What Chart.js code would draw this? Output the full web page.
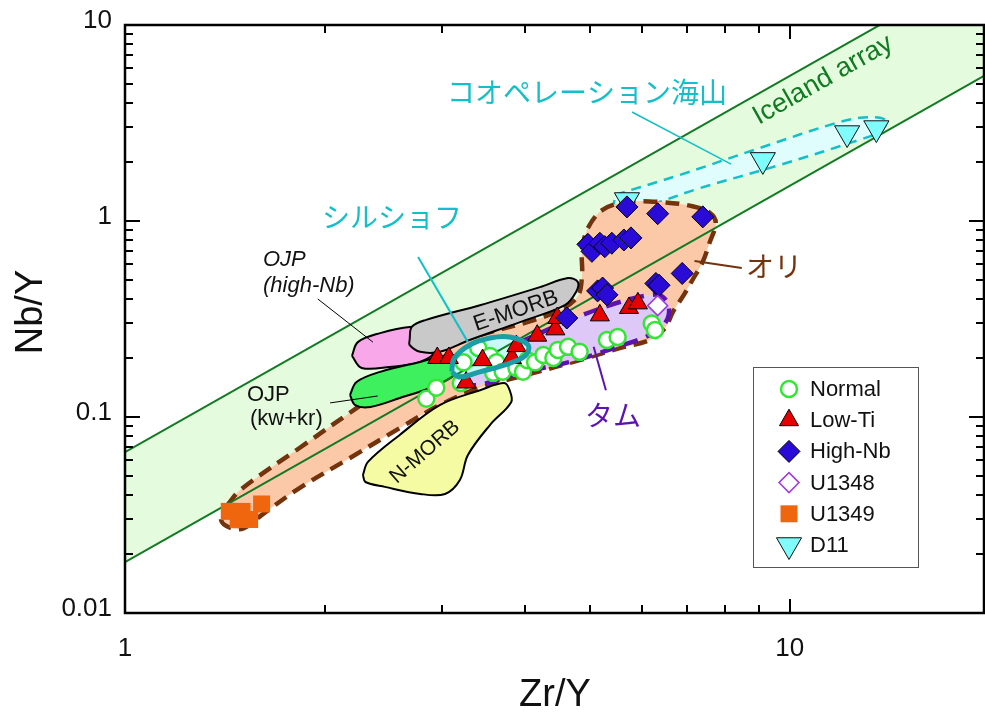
<!DOCTYPE html>
<html>
<head>
<meta charset="utf-8">
<script src="https://cdn.jsdelivr.net/npm/chart.js@4.4.0/dist/chart.umd.min.js"></script>
<style>
  html, body { margin: 0; padding: 0; background: #fff; overflow: hidden; }
</style>
</head>
<body>
<canvas id="chart" width="985" height="715"></canvas>
<script>
// ---------- DATA (Zr/Y, Nb/Y) ----------
const seriesNames = ["Normal", "Low-Ti", "High-Nb", "U1348", "U1349", "D11"];

const normal = [[2.84,0.124],[2.94,0.141],[3.20,0.149],[3.23,0.19],[3.40,0.225],[3.54,0.205],
  [3.58,0.168],[3.62,0.19],[3.70,0.17],[3.88,0.178],[3.97,0.17],[4.03,0.195],[4.14,0.19],
  [4.26,0.207],[4.41,0.20],[4.48,0.22],[4.64,0.228],[4.83,0.215],[5.31,0.247],[5.51,0.256],
  [6.20,0.30],[6.27,0.278]];
const lowTi = [[2.95,0.20],[3.07,0.20],[3.26,0.15],[3.45,0.195],[3.82,0.20],[3.88,0.23],
  [4.17,0.26],[4.44,0.28],[4.47,0.32],[5.18,0.33],[5.73,0.36],[5.91,0.38]];
const highNb = [[5.69,1.18],[6.33,1.09],[7.40,1.05],[4.97,0.76],[5.04,0.70],[5.18,0.77],
  [5.27,0.74],[5.40,0.77],[5.63,0.80],[5.77,0.82],[5.14,0.44],[5.23,0.455],[5.31,0.42],
  [4.62,0.32],[6.29,0.48],[6.36,0.47],[6.89,0.54]];
const u1348 = [[6.33,0.37]];
const u1349 = [[1.435,0.033],[1.50,0.033],[1.54,0.030],[1.605,0.036],[1.48,0.030]];
const d11 = [[5.69,1.28],[9.11,2.05],[12.2,2.81],[13.5,2.98]];

// Iceland array boundaries
const icelandUpper = [[1,0.0661],[19.6,20.0]];
const icelandLower = [[1,0.0182],[19.6,5.5]];

// field outlines
const koaZone = [[5.46,1.36],[6.84,1.72],[9.02,2.36],[11.9,3.2],[13.2,3.39],[14.0,3.24],
  [13.65,2.85],[12.7,2.59],[9.66,1.93],[7.32,1.47],[6.16,1.21],[5.46,1.11],[5.46,1.36]];
const oriZone = [[1.425,0.0355],[1.49,0.0424],[1.83,0.0695],[2.23,0.111],[2.59,0.158],
  [2.88,0.2146],[3.42,0.262],[4.03,0.305],[4.51,0.351],[4.80,0.414],[4.87,0.53],[4.87,0.711],
  [4.97,0.92],[5.23,1.14],[5.69,1.25],[6.38,1.25],[7.14,1.19],[7.58,1.10],[7.74,0.977],
  [7.58,0.78],[7.40,0.62],[7.14,0.50],[6.93,0.42],[6.67,0.343],[6.49,0.284],[6.16,0.247],
  [5.55,0.225],[4.83,0.195],[4.07,0.166],[3.42,0.141],[2.975,0.115],[2.59,0.0878],
  [2.18,0.0618],[1.83,0.0434],[1.605,0.0316],[1.51,0.0271],[1.445,0.0271],[1.395,0.0298],
  [1.425,0.0355]];
const tamZone = [[3.25,0.146],[3.30,0.178],[3.66,0.215],[4.21,0.268],[4.83,0.327],[5.55,0.386],
  [6.16,0.419],[6.42,0.414],[6.58,0.364],[6.51,0.305],[6.20,0.265],[5.55,0.23],[4.67,0.191],
  [3.93,0.168],[3.42,0.146],[3.25,0.146]];
const emorbZone = [[2.68,0.247],[2.70,0.288],[2.83,0.312],[3.42,0.372],[4.21,0.46],[4.64,0.512],
  [4.80,0.488],[4.77,0.434],[4.59,0.372],[3.93,0.305],[3.30,0.247],[2.975,0.215],[2.78,0.215],
  [2.68,0.233],[2.68,0.247]];
const ojpHighNb = [[2.195,0.205],[2.24,0.241],[2.42,0.268],[2.68,0.288],[2.83,0.278],[2.93,0.22],
  [2.78,0.191],[2.50,0.18],[2.27,0.178],[2.195,0.205]];
const ojpKwKr = [[2.18,0.1295],[2.23,0.151],[2.42,0.170],[2.78,0.191],[3.08,0.207],[3.21,0.195],
  [3.13,0.164],[2.88,0.141],[2.59,0.125],[2.34,0.1125],[2.22,0.115],[2.18,0.1295]];
const nmorbZone = [[2.28,0.0506],[2.32,0.059],[2.59,0.081],[2.975,0.115],[3.42,0.137],[3.72,0.149],
  [3.79,0.137],[3.81,0.119],[3.54,0.091],[3.28,0.064],[3.19,0.0477],[3.03,0.0405],[2.78,0.0405],
  [2.46,0.044],[2.30,0.0466],[2.28,0.0506]];
const shirshovZone = [[3.10,0.170],[3.13,0.200],[3.30,0.233],[3.54,0.253],[3.79,0.256],[4.04,0.233],
  [4.00,0.205],[3.72,0.184],[3.42,0.170],[3.19,0.160],[3.10,0.170]];

// leader lines
const leaderKoa = [[5.79,3.60],[8.16,1.95]];
const leaderShirshov = [[2.76,0.655],[3.28,0.241]];
const leaderOjpHigh = [[1.95,0.40],[2.36,0.241]];
const leaderOjpKw = [[2.035,0.118],[2.40,0.128]];
const leaderOri = [[7.19,0.625],[8.47,0.575]];
const leaderTam = [[5.07,0.228],[5.29,0.137]];

// tick labels
const xTickLabels = ["1", "10"];
const yTickLabels = ["0.01", "0.1", "1", "10"];

// ---------- STYLE ----------
const SANS = '"Liberation Sans", Arial, sans-serif';
const CJK = '"Noto Sans CJK JP", sans-serif';
const CYAN = "#14bfc8";
const BROWN = "#73330c";
const PURPLE = "#5c14b0";
const DKGREEN = "#117a22";

const pts = arr => arr.map(([x, y]) => ({ x, y }));

function zone(data, fill, border, width, dash, order) {
  return {
    type: "line", data: pts(data), order,
    fill: fill ? "shape" : false,
    backgroundColor: fill || "transparent",
    borderColor: border || "transparent",
    borderWidth: width, borderDash: dash || [],
    borderCapStyle: "butt", borderJoinStyle: "round",
    pointRadius: 0, tension: 0.35
  };
}

function straight(data, color, width, order) {
  return {
    type: "line", data: pts(data), order, fill: false,
    borderColor: color, borderWidth: width, pointRadius: 0, tension: 0
  };
}

function marks(label, data, style, order) {
  return {
    type: "line", label, data: pts(data), order, showLine: false,
    pointStyle: style.shape, pointRadius: style.r, pointRotation: style.rot || 0,
    pointBackgroundColor: style.fill, pointBorderColor: style.stroke,
    pointBorderWidth: style.lw
  };
}

const markStyles = {
  "Normal":  { shape: "circle",   r: 8,    fill: "#ffffff", stroke: "#33e633", lw: 2.5 },
  "Low-Ti":  { shape: "triangle", r: 11,   fill: "#e60000", stroke: "#000000", lw: 1 },
  "High-Nb": { shape: "rectRot",  r: 11,   fill: "#2a0ad6", stroke: "#000000", lw: 1 },
  "U1348":   { shape: "rectRot",  r: 10,   fill: "#ffffff", stroke: "#a03ae0", lw: 1.5 },
  "U1349":   { shape: "rect",     r: 12,   fill: "#f0660f", stroke: "#f0660f", lw: 0 },
  "D11":     { shape: "triangle", r: 14.5, fill: "#7ffcfc", stroke: "#111111", lw: 1, rot: 180 }
};

const notes = [
  { text: "コオペレーション海山", x: 587, y: 92, font: `28px ${CJK}`, color: CYAN },
  { text: "シルショフ", x: 392, y: 217, font: `28px ${CJK}`, color: CYAN },
  { text: "オリ", x: 774, y: 266, font: `28px ${CJK}`, color: BROWN },
  { text: "タム", x: 613, y: 415, font: `28px ${CJK}`, color: PURPLE },
  { text: "Iceland array", x: 823, y: 80, rot: -29.5, font: `27px ${SANS}`, color: DKGREEN },
  { text: "E-MORB", x: 516, y: 311, rot: -19, font: `22px ${SANS}`, color: "#111" },
  { text: "N-MORB", x: 425, y: 452, rot: -41, font: `21px ${SANS}`, color: "#111" },
  { text: "OJP", x: 263, y: 260, align: "left", font: `italic 22px ${SANS}`, color: "#111" },
  { text: "(high-Nb)", x: 263, y: 286, align: "left", font: `italic 22px ${SANS}`, color: "#111" },
  { text: "OJP", x: 247, y: 395, align: "left", font: `22px ${SANS}`, color: "#111" },
  { text: "(kw+kr)", x: 250, y: 419, align: "left", font: `22px ${SANS}`, color: "#111" }
];

// ---------- DATASETS ----------
const datasets = [
  // Iceland band fill (upper fills to the next dataset)
  { type: "line", data: pts(icelandUpper), order: 50, fill: "+1",
    backgroundColor: "#e4fbde", borderWidth: 0, borderColor: "transparent", pointRadius: 0 },
  { type: "line", data: pts(icelandLower), order: 51, fill: false,
    borderWidth: 0, borderColor: "transparent", pointRadius: 0 },

  zone(koaZone, "#e0fdfd", CYAN, 2.5, [10, 7], 40),
  zone(oriZone, "#fcc9a8", BROWN, 4.5, [14, 8], 39),
  zone(tamZone, "#ddc8f8", PURPLE, 4.5, [15, 9], 38),
  zone(ojpHighNb, "#f8a8e8", "#000", 2, null, 37),
  zone(emorbZone, "#c9c9c9", "#000", 2, null, 36),
  zone(ojpKwKr, "#3ef05e", "#000", 2, null, 35),
  zone(nmorbZone, "#f4fba2", "#000", 2, null, 34),
  zone(shirshovZone, "#c8fafa", null, 0, null, 33),

  straight(icelandUpper, DKGREEN, 2, 30),
  straight(icelandLower, DKGREEN, 2, 30),
  straight(leaderKoa, CYAN, 1.5, 29),
  straight(leaderShirshov, CYAN, 2, 29),
  straight(leaderOjpHigh, "#000", 1, 29),
  straight(leaderOjpKw, "#000", 1, 29),
  straight(leaderOri, BROWN, 2, 29),
  straight(leaderTam, PURPLE, 2, 29),

  marks("D11", d11, markStyles["D11"], 20),
  marks("Normal", normal, markStyles["Normal"], 19),
  marks("Low-Ti", lowTi, markStyles["Low-Ti"], 18),
  marks("High-Nb", highNb, markStyles["High-Nb"], 17),
  marks("U1348", u1348, markStyles["U1348"], 16),
  marks("U1349", u1349, markStyles["U1349"], 15),

  zone(shirshovZone, null, "#1c9ea6", 5, null, 1)
];

// ---------- HELPERS ----------
function decadeLabel(v, labels) {
  const lg = Math.log10(v);
  if (Math.abs(lg - Math.round(lg)) > 1e-6) return "";
  const s = String(Math.pow(10, Math.round(lg)).toFixed(Math.max(0, -Math.round(lg))));
  return labels.includes(s) ? s : "";
}

function tickKind(v) {
  const e = Math.floor(Math.log10(v) + 1e-9);
  const m = v / Math.pow(10, e);
  const r = Math.round(m);
  if (Math.abs(m - r) > 1e-6 || r < 1 || r > 9) return 0;
  return r === 1 ? 2 : 1;
}

function drawMarker(ctx, st, x, y) {
  ctx.save();
  ctx.fillStyle = st.fill;
  ctx.strokeStyle = st.stroke;
  ctx.lineWidth = st.lw;
  ctx.beginPath();
  const r = st.r;
  if (st.shape === "circle") {
    ctx.arc(x, y, r, 0, Math.PI * 2);
  } else if (st.shape === "triangle") {
    let a = (st.rot || 0) * Math.PI / 180;
    ctx.moveTo(x + Math.sin(a) * r, y - Math.cos(a) * r);
    a += 2 * Math.PI / 3;
    ctx.lineTo(x + Math.sin(a) * r, y - Math.cos(a) * r);
    a += 2 * Math.PI / 3;
    ctx.lineTo(x + Math.sin(a) * r, y - Math.cos(a) * r);
    ctx.closePath();
  } else if (st.shape === "rectRot") {
    ctx.moveTo(x - r, y); ctx.lineTo(x, y - r); ctx.lineTo(x + r, y); ctx.lineTo(x, y + r);
    ctx.closePath();
  } else {
    const s = r * Math.SQRT1_2;
    ctx.rect(x - s, y - s, 2 * s, 2 * s);
  }
  ctx.fill();
  if (st.lw > 0) ctx.stroke();
  ctx.restore();
}

// frame, inward ticks, annotations, legend, axis titles
const decorations = {
  id: "decorations",
  afterDatasetsDraw(chart) {
    const ctx = chart.ctx;
    const { left, right, top, bottom } = chart.chartArea;
    const xs = chart.scales.x, ys = chart.scales.y;

    // annotations
    notes.forEach(n => {
      ctx.save();
      ctx.translate(n.x, n.y);
      if (n.rot) ctx.rotate(n.rot * Math.PI / 180);
      ctx.font = n.font;
      ctx.fillStyle = n.color;
      ctx.textAlign = n.align || "center";
      ctx.textBaseline = "middle";
      ctx.fillText(n.text, 0, 0);
      ctx.restore();
    });

    // ticks
    ctx.save();
    ctx.strokeStyle = "#000";
    ctx.lineWidth = 2;
    ctx.beginPath();
    xs.ticks.forEach(t => {
      const k = tickKind(t.value);
      if (!k) return;
      const px = Math.round(xs.getPixelForValue(t.value));
      const len = k === 2 ? 14 : 8;
      ctx.moveTo(px, bottom); ctx.lineTo(px, bottom - len);
      ctx.moveTo(px, top); ctx.lineTo(px, top + len);
    });
    ys.ticks.forEach(t => {
      const k = tickKind(t.value);
      if (!k) return;
      const py = Math.round(ys.getPixelForValue(t.value));
      const len = k === 2 ? 15 : 8;
      ctx.moveTo(left, py); ctx.lineTo(left + len, py);
      ctx.moveTo(right, py); ctx.lineTo(right - len, py);
    });
    ctx.stroke();
    ctx.lineWidth = 2.5;
    ctx.strokeRect(left, top, right - left, bottom - top);
    ctx.restore();

    // legend
    ctx.save();
    ctx.fillStyle = "#fff";
    ctx.fillRect(753, 367, 165, 200);
    ctx.strokeStyle = "#555";
    ctx.lineWidth = 1;
    ctx.strokeRect(753.5, 367.5, 165, 200);
    ctx.font = `22px ${SANS}`;
    ctx.textAlign = "left";
    ctx.textBaseline = "middle";
    seriesNames.forEach((name, i) => {
      const y = 389 + i * 31.2;
      drawMarker(ctx, markStyles[name], 789, y);
      ctx.fillStyle = "#111";
      ctx.fillText(name, 810, y + 1);
    });
    ctx.restore();

    // axis titles
    ctx.save();
    ctx.fillStyle = "#111";
    ctx.font = `38px ${SANS}`;
    ctx.textAlign = "center";
    ctx.textBaseline = "middle";
    ctx.fillText("Zr/Y", 555, 696);
    ctx.translate(32, 312);
    ctx.rotate(-Math.PI / 2);
    ctx.fillText("Nb/Y", 0, 0);
    ctx.restore();
  }
};

new Chart(document.getElementById("chart"), {
  type: "line",
  data: { datasets },
  options: {
    responsive: false,
    animation: false,
    devicePixelRatio: 1,
    events: [],
    layout: { autoPadding: false, padding: { top: 25, right: 1, left: 0, bottom: 0 } },
    plugins: { legend: { display: false }, tooltip: { enabled: false } },
    scales: {
      x: {
        type: "logarithmic", min: 1, max: 19.6,
        grid: { display: false }, border: { display: false },
        ticks: {
          autoSkip: false, maxRotation: 0, padding: 12, color: "#111",
          font: { family: SANS, size: 26 },
          callback: v => decadeLabel(v, xTickLabels)
        },
        afterFit: s => { s.height = 102; s.paddingLeft = 0; s.paddingRight = 0; }
      },
      y: {
        type: "logarithmic", min: 0.01, max: 10,
        grid: { display: false }, border: { display: false },
        ticks: {
          autoSkip: false, padding: 5, labelOffset: -4, color: "#111",
          font: { family: SANS, size: 26 },
          callback: v => decadeLabel(v, yTickLabels)
        },
        afterFit: s => { s.width = 125; s.paddingTop = 0; s.paddingBottom = 0; }
      }
    }
  },
  plugins: [decorations]
});
</script>
</body>
</html>
